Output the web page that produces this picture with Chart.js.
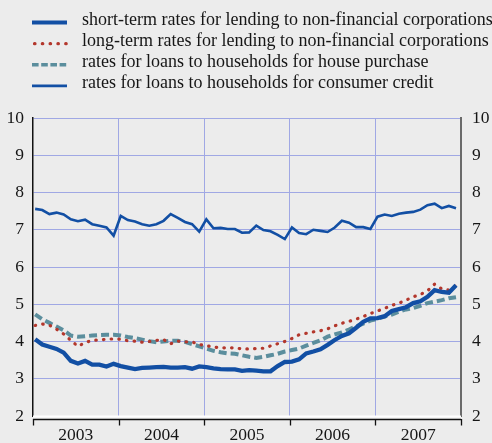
<!DOCTYPE html>
<html><head><meta charset="utf-8">
<script src="https://cdn.jsdelivr.net/npm/chart.js@4.4.1/dist/chart.umd.min.js"></script>
<style>
html,body{margin:0;padding:0;background:#ececec;}
#wrap{position:relative;width:492px;height:443px;}
</style></head><body>
<div id="wrap"><canvas id="c" width="492" height="443"></canvas></div>
<script>
const years = ['2003','2004','2005','2006','2007'];
const yTicks = [2,3,4,5,6,7,8,9,10];
const seriesNames = [
  'short-term rates for lending to non-financial corporations',
  'long-term rates for lending to non-financial corporations',
  'rates for loans to households for house purchase',
  'rates for loans to households for consumer credit'
];
// monthly values, Jan 2003 - Dec 2007
const shortTerm = [4.06,3.92,3.86,3.80,3.70,3.48,3.41,3.48,3.38,3.38,3.33,3.40,
  3.34,3.30,3.26,3.29,3.30,3.31,3.32,3.30,3.30,3.31,3.27,3.33,
  3.31,3.28,3.26,3.25,3.25,3.21,3.23,3.22,3.20,3.20,3.34,3.45,
  3.46,3.52,3.68,3.73,3.79,3.91,4.04,4.15,4.22,4.37,4.53,4.62,
  4.63,4.68,4.82,4.87,4.92,5.03,5.08,5.20,5.38,5.33,5.31,5.51];
const longTerm = [4.43,4.47,4.44,4.33,4.20,4.03,3.87,3.97,4.03,4.04,4.06,4.07,
  4.06,4.02,4.01,3.98,4.00,4.03,4.05,3.94,4.01,3.99,3.99,3.92,
  3.89,3.85,3.83,3.83,3.83,3.80,3.80,3.81,3.82,3.88,3.94,4.00,
  4.08,4.18,4.22,4.26,4.29,4.34,4.42,4.49,4.54,4.60,4.67,4.75,
  4.82,4.89,4.97,5.03,5.11,5.20,5.26,5.36,5.54,5.41,5.38,5.50];
const housePurchase = [4.73,4.60,4.50,4.40,4.30,4.16,4.13,4.14,4.16,4.17,4.18,4.18,
  4.16,4.12,4.09,4.05,4.01,3.98,4.00,4.02,4.02,3.99,3.93,3.87,
  3.81,3.75,3.71,3.68,3.67,3.63,3.59,3.56,3.59,3.63,3.67,3.73,
  3.77,3.81,3.89,3.96,4.03,4.13,4.19,4.24,4.32,4.41,4.48,4.56,
  4.61,4.67,4.72,4.80,4.86,4.90,4.96,5.03,5.07,5.11,5.16,5.19];
const consumerCredit = [7.56,7.53,7.42,7.46,7.41,7.28,7.23,7.27,7.15,7.11,7.06,6.84,
  7.37,7.26,7.22,7.15,7.11,7.15,7.24,7.42,7.32,7.21,7.15,6.95,
  7.28,7.04,7.05,7.02,7.02,6.92,6.93,7.11,6.99,6.96,6.86,6.75,
  7.06,6.91,6.88,7.00,6.97,6.94,7.06,7.24,7.19,7.07,7.07,7.02,
  7.35,7.41,7.37,7.43,7.46,7.48,7.54,7.66,7.70,7.58,7.64,7.58];

const OFFSET = 0.3; // points sit slightly right of month boundary
const toXY = arr => arr.map((v,i)=>({x:i+OFFSET, y:v}));

const BLUE = '#124fa4', RED = '#b3372c', TEAL = '#5b8e9d', GRID = '#a0a8e4';
const FONT = '"Liberation Serif", "Times New Roman", serif';

const legendPlugin = {
  id:'customLegend',
  afterDraw(chart){
    const ctx = chart.ctx;
    chart.data.datasets.forEach((ds,i)=>{
      const base = 25 + 21.1*i;
      const cy = base - 2.4;
      ctx.save();
      ctx.strokeStyle = ds.borderColor;
      ctx.lineWidth = ds.legendWidth || ds.borderWidth;
      ctx.setLineDash(ds.legendDash || []);
      ctx.lineCap = ds.borderCapStyle || 'butt';
      ctx.beginPath();
      const x0 = ds.legendDash && ds.borderCapStyle==='round' ? 34.5 : 32;
      ctx.moveTo(x0, cy); ctx.lineTo(67, cy); ctx.stroke();
      ctx.restore();
      ctx.save();
      ctx.fillStyle = '#161616';
      ctx.font = '18px ' + FONT;
      ctx.textBaseline = 'alphabetic';
      ctx.fillText(ds.label, 82, base);
      ctx.restore();
    });
  }
};

const axisPlugin = {
  id:'axisDeco',
  afterDraw(chart){
    const ctx = chart.ctx, a = chart.chartArea, xs = chart.scales.x;
    ctx.save();
    ctx.strokeStyle = '#ffffff'; ctx.lineWidth = 2;
    ctx.beginPath(); ctx.moveTo(a.left, a.bottom+0.5); ctx.lineTo(a.right, a.bottom+0.5); ctx.stroke();
    ctx.strokeStyle = '#111111'; ctx.lineWidth = 1.3;
    ctx.beginPath(); ctx.moveTo(a.left, a.bottom+3.5); ctx.lineTo(a.right, a.bottom+3.5); ctx.stroke();
    [0,12,24,36,48,60].forEach(v=>{
      const px = Math.round(xs.getPixelForValue(v)) + 0.5;
      ctx.beginPath(); ctx.moveTo(px, a.bottom+3); ctx.lineTo(px, a.bottom+9.5); ctx.stroke();
    });
    ctx.restore();
  }
};

new Chart(document.getElementById('c'), {
  type:'line',
  data:{
    datasets:[
      {label:seriesNames[0], data:toXY(shortTerm), borderColor:BLUE, borderWidth:4.3, pointRadius:0, tension:0, legendWidth:4},
      {label:seriesNames[1], data:toXY(longTerm), borderColor:RED, borderWidth:3.2, borderDash:[0.5,7.2], borderCapStyle:'round', legendDash:[0.5,7.3], pointRadius:0, tension:0},
      {label:seriesNames[2], data:toXY(housePurchase), borderColor:TEAL, borderWidth:4, borderDash:[8,4], legendDash:[6.6,2.6], legendWidth:3.5, pointRadius:0, tension:0},
      {label:seriesNames[3], data:toXY(consumerCredit), borderColor:BLUE, borderWidth:2.6, pointRadius:0, tension:0, legendWidth:2.6}
    ]
  },
  options:{
    responsive:false, animation:false, devicePixelRatio:1,
    layout:{padding:{top:118, left:0, right:0, bottom:0}},
    plugins:{legend:{display:false}, tooltip:{enabled:false}},
    scales:{
      x:{type:'linear', min:0, max:60,
        afterBuildTicks: s => { s.ticks = [0,6,12,18,24,30,36,42,48,54,60].map(v=>({value:v})); },
        afterFit: s => { s.height = 27; },
        ticks:{autoSkip:false, maxRotation:0, padding:9, color:'#161616', font:{family:FONT, size:17.5},
          callback: v => (v%12===6) ? years[(v-6)/12] : ''},
        grid:{drawTicks:false, lineWidth:1,
          color: c => (c.tick && c.tick.value%12===0 && c.tick.value>0 && c.tick.value<60) ? GRID : 'rgba(0,0,0,0)'},
        border:{display:false}
      },
      y:{type:'linear', position:'left', min:2, max:10,
        afterBuildTicks: s => { s.ticks = yTicks.map(v=>({value:v})); },
        afterFit: s => { s.width = 33; },
        ticks:{padding:9, color:'#161616', font:{family:FONT, size:17.5}},
        grid:{drawTicks:false, color:GRID, lineWidth:1},
        border:{display:true, color:'#111111', width:1.5}
      },
      y2:{type:'linear', position:'right', min:2, max:10,
        afterBuildTicks: s => { s.ticks = yTicks.map(v=>({value:v})); },
        afterFit: s => { s.width = 31; },
        ticks:{padding:11, color:'#161616', font:{family:FONT, size:17.5}},
        grid:{display:false, drawTicks:false},
        border:{display:true, color:'#6a6a6a', width:2}
      }
    }
  },
  plugins:[legendPlugin, axisPlugin]
});
</script>
</body></html>
